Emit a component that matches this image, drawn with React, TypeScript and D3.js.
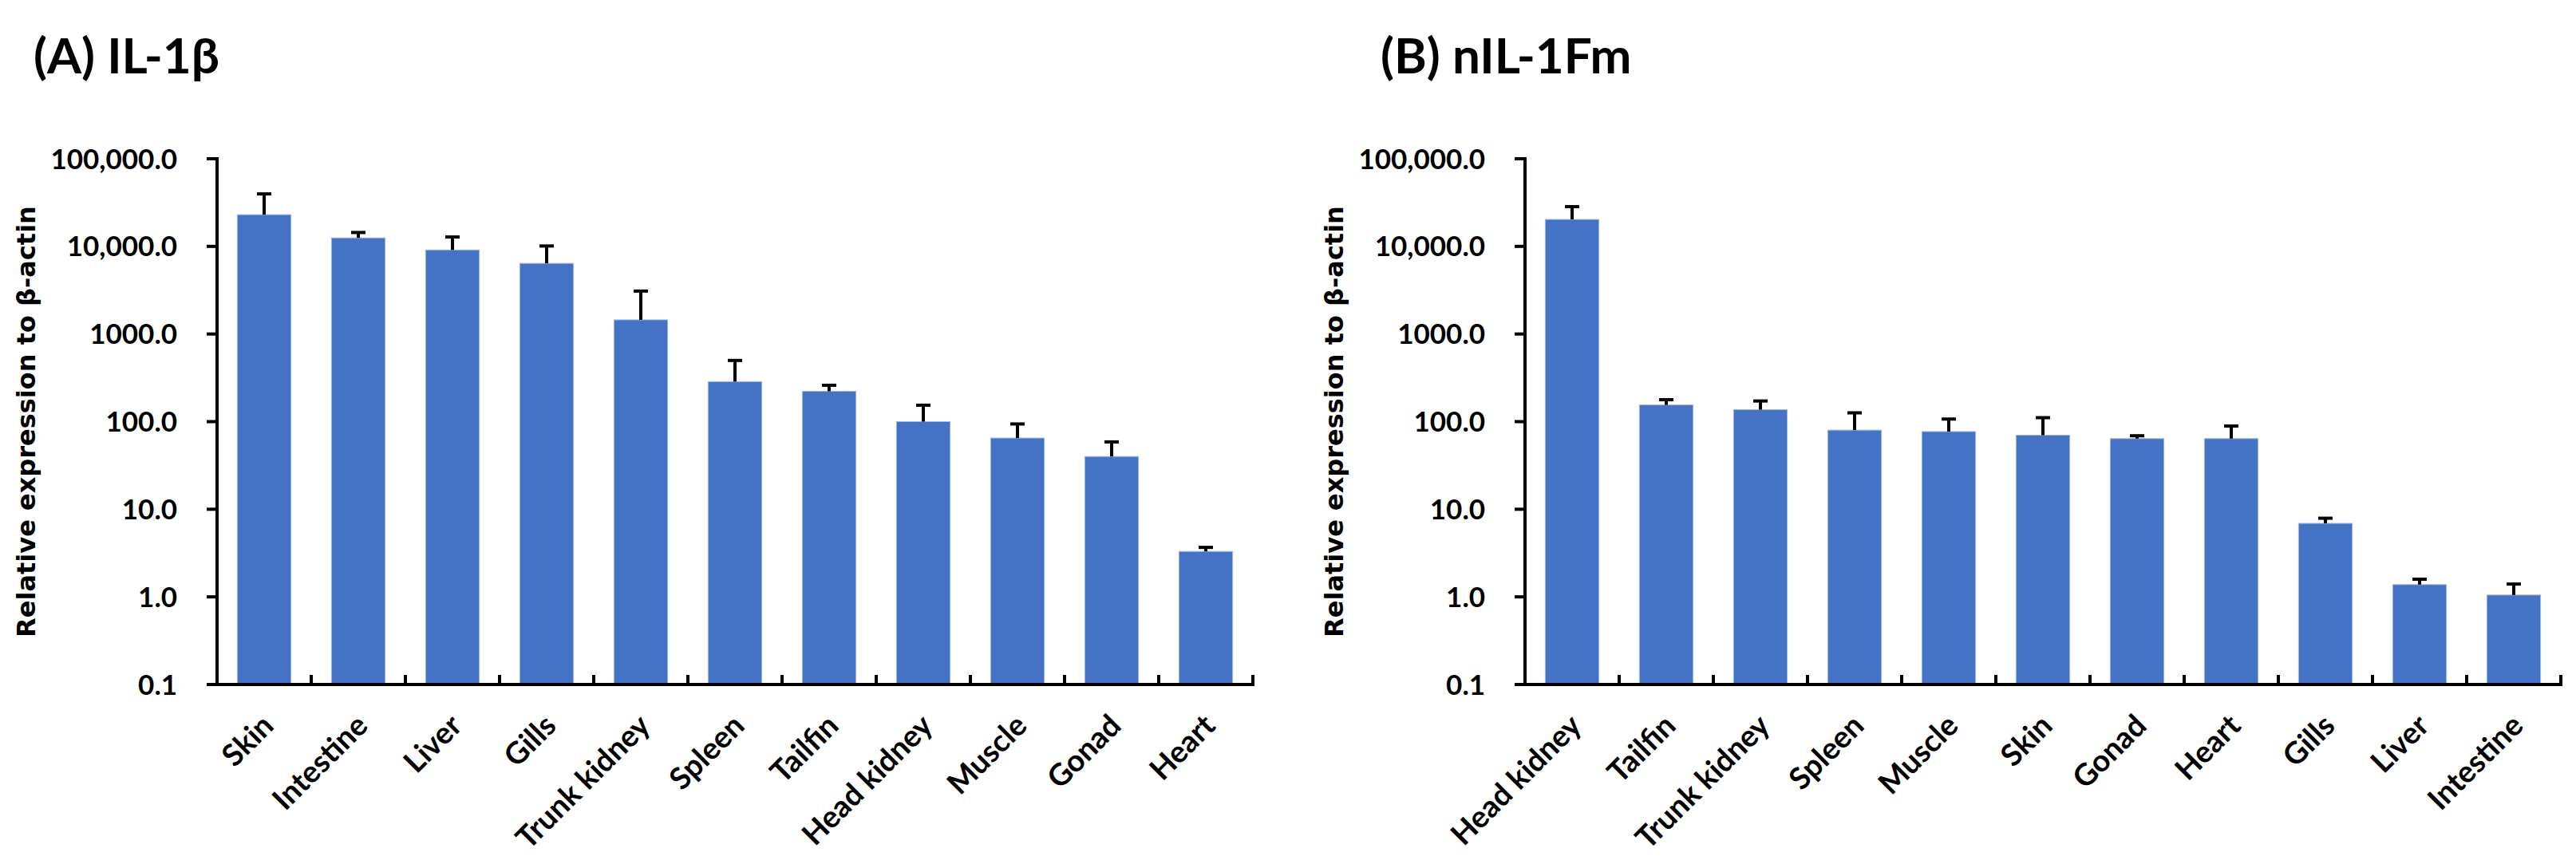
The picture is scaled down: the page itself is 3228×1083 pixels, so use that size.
import * as d3 from 'd3'
import React from 'react'

// tissue order and values (relative expression to beta-actin)
const tissuesA = ['Skin', 'Intestine', 'Liver', 'Gills', 'Trunk kidney', 'Spleen', 'Tailfin', 'Head kidney', 'Muscle', 'Gonad', 'Heart']
const meanA = [23000, 12500, 9100, 6400, 1450, 286, 222, 100, 65, 40, 3.3]
const errA = [16700, 1900, 3700, 3700, 1640, 213, 38, 54, 29, 18.7, 0.37]

const tissuesB = ['Head kidney', 'Tailfin', 'Trunk kidney', 'Spleen', 'Muscle', 'Skin', 'Gonad', 'Heart', 'Gills', 'Liver', 'Intestine']
const meanB = [20300, 155, 137, 80, 77, 70, 64, 64, 6.9, 1.38, 1.05]
const errB = [8100, 23, 35, 46, 30, 41, 5, 25, 1.0, 0.21, 0.35]

const tickValues = [0.1, 1, 10, 100, 1000, 10000, 100000]
const tickLabels = ['0.1', '1.0', '10.0', '100.0', '1000.0', '10,000.0', '100,000.0']

const W = 3228
const H = 1083
const TOP = 199
const BOTTOM = 858
const BLUE = '#4472C4'
const FONT = 'Lato, "Noto Sans", sans-serif'

function Panel(props: { x0: number; titleX: number; title: string; tissues: string[]; means: number[]; errs: number[] }) {
  const { x0, tissues, means, errs } = props
  const y = d3.scaleLog().domain([0.1, 100000]).range([BOTTOM, TOP])
  const x = d3.scaleBand<string>().domain(tissues).range([x0, x0 + 118 * tissues.length]).padding(0)
  const bw = x.bandwidth() * 0.57
  const xEnd = x0 + 118 * tissues.length

  return (
    <g>
      <text x={props.titleX} y={92} fontFamily={FONT} fontWeight={700} fontSize={62}>
        {props.title}
      </text>

      {tissues.map((t, i) => {
        const cx = x(t)! + x.bandwidth() / 2
        const top = y(means[i])
        const et = y(means[i] + errs[i])
        return (
          <g key={t}>
            <rect x={cx - bw / 2} y={top} width={bw} height={BOTTOM - top} fill={BLUE} stroke="#9fb6e2" strokeWidth={1} />
            <line x1={cx} x2={cx} y1={top} y2={et} stroke="#000" strokeWidth={4} />
            <line x1={cx - 9} x2={cx + 9} y1={et} y2={et} stroke="#000" strokeWidth={4} />
          </g>
        )
      })}

      {/* y axis */}
      <line x1={x0} x2={x0} y1={TOP - 2} y2={BOTTOM + 2} stroke="#000" strokeWidth={4} />
      {tickValues.map((v, i) => (
        <g key={v}>
          <line x1={x0 - 13} x2={x0} y1={y(v)} y2={y(v)} stroke="#000" strokeWidth={4} />
          <text x={x0 - 50} y={y(v)} dy="0.36em" textAnchor="end" fontFamily={FONT} fontWeight={700} fontSize={35}>
            {tickLabels[i]}
          </text>
        </g>
      ))}
      <text
        transform={`translate(${x0 - 228},${(TOP + BOTTOM) / 2}) rotate(-90)`}
        textAnchor="middle"
        fontFamily='"DejaVu Sans", Verdana, sans-serif'
        fontWeight={700}
        fontSize={32}
      >
        Relative expression to β-actin
      </text>

      {/* x axis */}
      <line x1={x0 - 13} x2={xEnd + 2} y1={BOTTOM} y2={BOTTOM} stroke="#000" strokeWidth={4} />
      {tissues.map(t => {
        const bx = x(t)! + x.bandwidth()
        return <line key={'tk' + t} x1={bx} x2={bx} y1={BOTTOM} y2={BOTTOM - 12} stroke="#000" strokeWidth={4} />
      })}
      {tissues.map(t => {
        const cx = x(t)! + x.bandwidth() / 2
        return (
          <text
            key={'lb' + t}
            transform={`translate(${cx + 14},${BOTTOM + 54}) rotate(-45)`}
            textAnchor="end"
            fontFamily={FONT}
            fontWeight={700}
            fontSize={38}
          >
            {t}
          </text>
        )
      })}
    </g>
  )
}

export default function App() {
  return (
    <div style={{ position: 'absolute', left: 0, top: 0 }}>
      <svg width={W} height={H} viewBox={`0 0 ${W} ${H}`} style={{ display: 'block', background: '#fff' }}>
        <rect width={W} height={H} fill="#fff" />
        <Panel x0={272} titleX={42} title="(A) IL-1β" tissues={tissuesA} means={meanA} errs={errA} />
        <Panel x0={1911} titleX={1730} title="(B) nIL-1Fm" tissues={tissuesB} means={meanB} errs={errB} />
      </svg>
    </div>
  )
}
